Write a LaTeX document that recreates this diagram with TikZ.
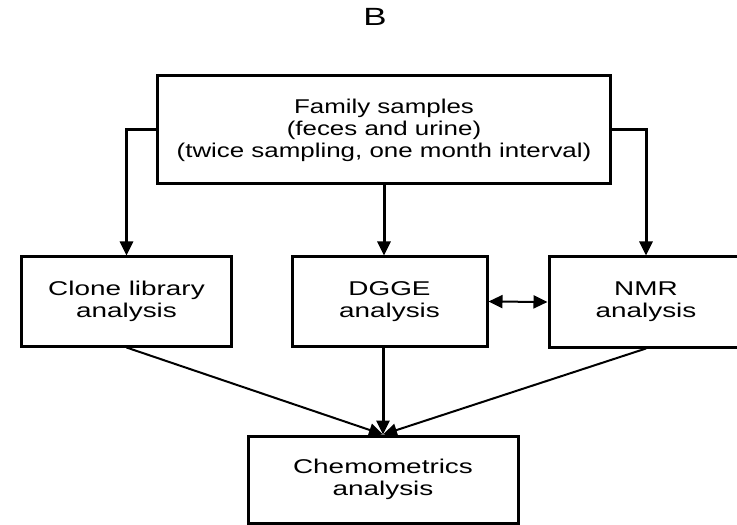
\documentclass[tikz,border=0pt]{standalone}
\usepackage{fontspec}
\setmainfont{Liberation Sans}
\newfontfamily\boxfont[FakeStretch=1.4]{Liberation Sans}
\newfontfamily\samplefont[FakeStretch=1.3]{Liberation Sans}
\usetikzlibrary{arrows.meta}

\begin{document}
\begin{tikzpicture}[x=1bp, y=-1bp,
    box/.style={draw, line width=3bp, align=center, inner sep=0pt,
      font=\boxfont\fontsize{20}{22}\selectfont},
    arr/.style={line width=3bp, -{Triangle[length=14bp, width=13bp]}},
    slim/.style={line width=2bp, -{Triangle[length=14bp, width=13bp]}}]
    \useasboundingbox (0,0) rectangle (737,525);
    \node[font=\boxfont\fontsize{25}{25}\selectfont] (panel) at (375,17) {B};
    \node[box, minimum width=452bp, minimum height=108bp,
      font=\samplefont\fontsize{20}{22}\selectfont] (samples) at (384,130)
      {Family samples\\(feces and urine)\\(twice sampling, one month interval)};
    \node[box, minimum width=209bp, minimum height=89bp] (clone) at (126.5,301.5) {Clone library\\analysis};
    \node[box, minimum width=195bp, minimum height=89bp] (dgge) at (389.5,301.5) {DGGE\\analysis};
    \node[box, minimum width=194bp, minimum height=90bp] (nmr) at (646,302) {NMR\\analysis};
    \node[box, minimum width=270bp, minimum height=87bp] (chemo) at (383,479.5) {Chemometrics\\analysis};
    % sampling to the three analyses
    \draw [arr] (samples.west) -| (clone.north);
    \draw [arr] (samples.south) -- (samples.south |- dgge.north);
    \draw [arr] (samples.east) -| (nmr.north);
    \draw [line width=2bp, {Triangle[length=14bp, width=13bp]}-{Triangle[length=14bp, width=13bp]}] (dgge.east) -- (nmr.west);
    % all into chemometrics
    \draw [slim] (clone.south) -- (chemo.north);
    \draw [arr] (dgge.south -| chemo.north) -- (chemo.north);
    \draw [slim] (nmr.south) -- (chemo.north);
\end{tikzpicture}
\end{document}
